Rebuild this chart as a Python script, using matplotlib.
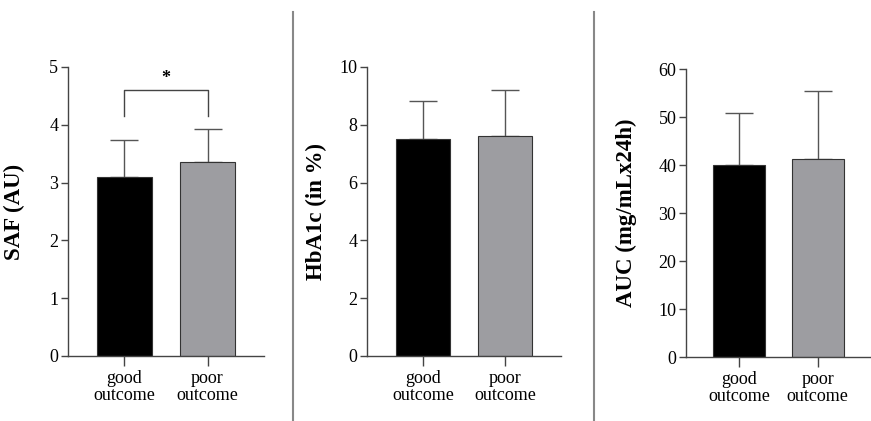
import matplotlib.pyplot as plt
import numpy as np

plt.rcParams['font.family'] = ['Liberation Serif', 'DejaVu Serif']
plt.rcParams['font.size'] = 13
plt.rcParams['axes.linewidth'] = 1.0

groups = ['good\noutcome', 'poor\noutcome']
colors = ['#000000', '#9d9da1']

saf_mean = [3.10, 3.36]
saf_sd = [0.64, 0.56]
hba_mean = [7.52, 7.62]
hba_sd = [1.32, 1.60]
auc_mean = [40.0, 41.3]
auc_sd = [10.8, 14.1]

panels = [
    (saf_mean, saf_sd, 'SAF (AU)', 5, 1, [0.0781, 0.1544, 0.2250, 0.6865], 25),
    (hba_mean, hba_sd, 'HbA1c (in %)', 10, 2, [0.4214, 0.1544, 0.2227, 0.6865], 327),
    (auc_mean, auc_sd, 'AUC (mg/mLx24h)', 60, 10, [0.7876, 0.1520, 0.2124, 0.6841], 637),
]

fig = plt.figure(figsize=(8.71, 4.21), dpi=100)
x = np.arange(len(groups))
axes = []
for mean, sd, label, top, step, pos, lx in panels:
    ax = fig.add_axes(pos)
    ax.bar(x, mean, width=0.66, color=colors, edgecolor='#333333', linewidth=0.8, zorder=2)
    ax.errorbar(x, mean, yerr=[np.zeros(len(sd)), sd], fmt='none', ecolor='#555555',
                elinewidth=1.0, capsize=10, capthick=1.0, zorder=1)
    ax.set_ylim(0, top)
    ax.set_xlim(-0.68, 1.68)
    ax.set_yticks(np.arange(0, top + step / 2, step))
    ax.set_xticks(x)
    ax.set_xticklabels(groups, linespacing=1.0)
    for s in ['top', 'right']:
        ax.spines[s].set_visible(False)
    for s in ['left', 'bottom']:
        ax.spines[s].set_color('#444444')
    ax.tick_params(axis='y', length=5, width=1, color='#444444', pad=2, labelsize=13)
    ax.tick_params(axis='x', length=7, width=1, color='#444444', pad=3, labelsize=13)
    ax.set_ylabel(label, fontsize=16.5, fontweight='bold')
    ax.yaxis.set_label_coords((lx - pos[0] * 871) / (pos[2] * 871), 0.5)
    axes.append(ax)

# significance bracket on the SAF panel
ax = axes[0]
ax.plot([0, 0, 1, 1], [4.15, 4.6, 4.6, 4.15], color='#444444', lw=1.0, clip_on=False)
ax.text(0.5, 4.66, '*', ha='center', va='bottom', fontsize=13, fontweight='bold')

# separators between panels
for sx in [293, 594]:
    fig.add_artist(plt.Line2D([sx / 871, sx / 871], [1 - 12 / 421, 0.0], color='#888888', lw=1.5))

fig.savefig('out.png', dpi=100, facecolor='white')
